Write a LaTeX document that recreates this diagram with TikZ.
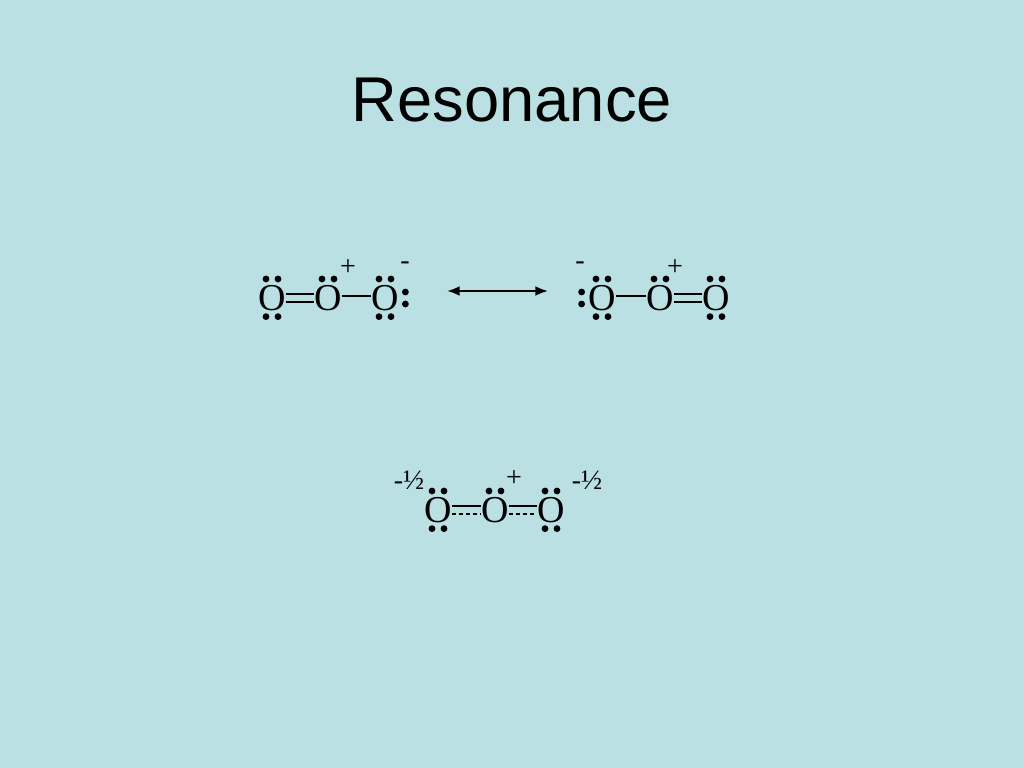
\documentclass[tikz,border=0pt]{standalone}
\usepackage{fontspec}
\setmainfont{Liberation Serif}
\setsansfont{Liberation Sans}
\usetikzlibrary{arrows.meta}
\definecolor{slide}{RGB}{186,224,228}

\newcommand{\pairup}[1]{\fill ([shift={(-0.15cm,0.15cm)}]#1.north) circle [radius=0.085cm] ([shift={(0.15cm,0.15cm)}]#1.north) circle [radius=0.085cm];}
\newcommand{\pairdown}[1]{\fill ([shift={(-0.15cm,-0.14cm)}]#1.south) circle [radius=0.085cm] ([shift={(0.15cm,-0.14cm)}]#1.south) circle [radius=0.085cm];}
\newcommand{\pairright}[1]{\fill ([shift={(0.16cm,0.15cm)}]#1.east) circle [radius=0.085cm] ([shift={(0.16cm,-0.15cm)}]#1.east) circle [radius=0.085cm];}
\newcommand{\pairleft}[1]{\fill ([shift={(-0.16cm,0.15cm)}]#1.west) circle [radius=0.085cm] ([shift={(-0.16cm,-0.15cm)}]#1.west) circle [radius=0.085cm];}

\begin{document}
\begin{tikzpicture}[x=0.025cm, y=-0.025cm,
  atom/.style={inner sep=0pt, font=\fontsize{27}{32}\selectfont},
  charge/.style={inner sep=0pt, font=\fontsize{20}{24}\selectfont},
  bond/.style={line width=1.5pt}]
\fill[slide] (0,0) rectangle (1024,768);
\useasboundingbox (0,0) rectangle (1024,768);
\node[font=\sffamily\fontsize{45}{54}\selectfont] (title) at (512,100) {Resonance};

% left structure
\node[atom] (a1) at (272,298) {O};
\node[atom] (a2) at (328,298) {O};
\node[atom] (a3) at (385,298) {O};
\draw[bond] ([yshift=0.1cm]a1.east) -- ([yshift=0.1cm]a2.west);
\draw[bond] ([yshift=-0.1cm]a1.east) -- ([yshift=-0.1cm]a2.west);
\draw[bond] ([yshift=0.05cm]a2.east) -- ([yshift=0.05cm]a3.west);
\pairup{a1} \pairdown{a1}
\pairup{a2}
\pairup{a3} \pairdown{a3} \pairright{a3}
\node[charge] (a2c) at (348,268) {+};
\node[charge] (a3c) at (405,266) {-};

% arrow
\coordinate (arl) at (447,291);
\coordinate (arr) at (548,291);
\draw[line width=1.5pt, {Latex[length=9pt,width=7pt]}-{Latex[length=9pt,width=7pt]}] (arl) -- (arr);

% right structure
\node[atom] (b1) at (602,298) {O};
\node[atom] (b2) at (660,298) {O};
\node[atom] (b3) at (716,298) {O};
\draw[bond] ([yshift=0.05cm]b1.east) -- ([yshift=0.05cm]b2.west);
\draw[bond] ([yshift=0.1cm]b2.east) -- ([yshift=0.1cm]b3.west);
\draw[bond] ([yshift=-0.1cm]b2.east) -- ([yshift=-0.1cm]b3.west);
\pairup{b1} \pairdown{b1} \pairleft{b1}
\pairup{b2}
\pairup{b3} \pairdown{b3}
\node[charge] (b1c) at (580,266) {-};
\node[charge] (b2c) at (675,268) {+};

% hybrid
\node[atom] (c1) at (438,510) {O};
\node[atom] (c2) at (495,510) {O};
\node[atom] (c3) at (551,510) {O};
\foreach \u/\v in {c1/c2, c2/c3} {
  \draw[bond] ([yshift=0.09cm]\u.east) -- ([yshift=0.09cm]\v.west);
  \draw[line width=1.2pt, dash pattern=on 3pt off 2pt] ([yshift=-0.1cm]\u.east) -- ([yshift=-0.1cm]\v.west);
}
\pairup{c1} \pairdown{c1}
\pairup{c2}
\pairup{c3} \pairdown{c3}
\node[charge] (c1c) at (409,480) {-½};
\node[charge] (c2c) at (514,479) {+};
\node[charge] (c3c) at (587,480) {-½};
\end{tikzpicture}
\end{document}
